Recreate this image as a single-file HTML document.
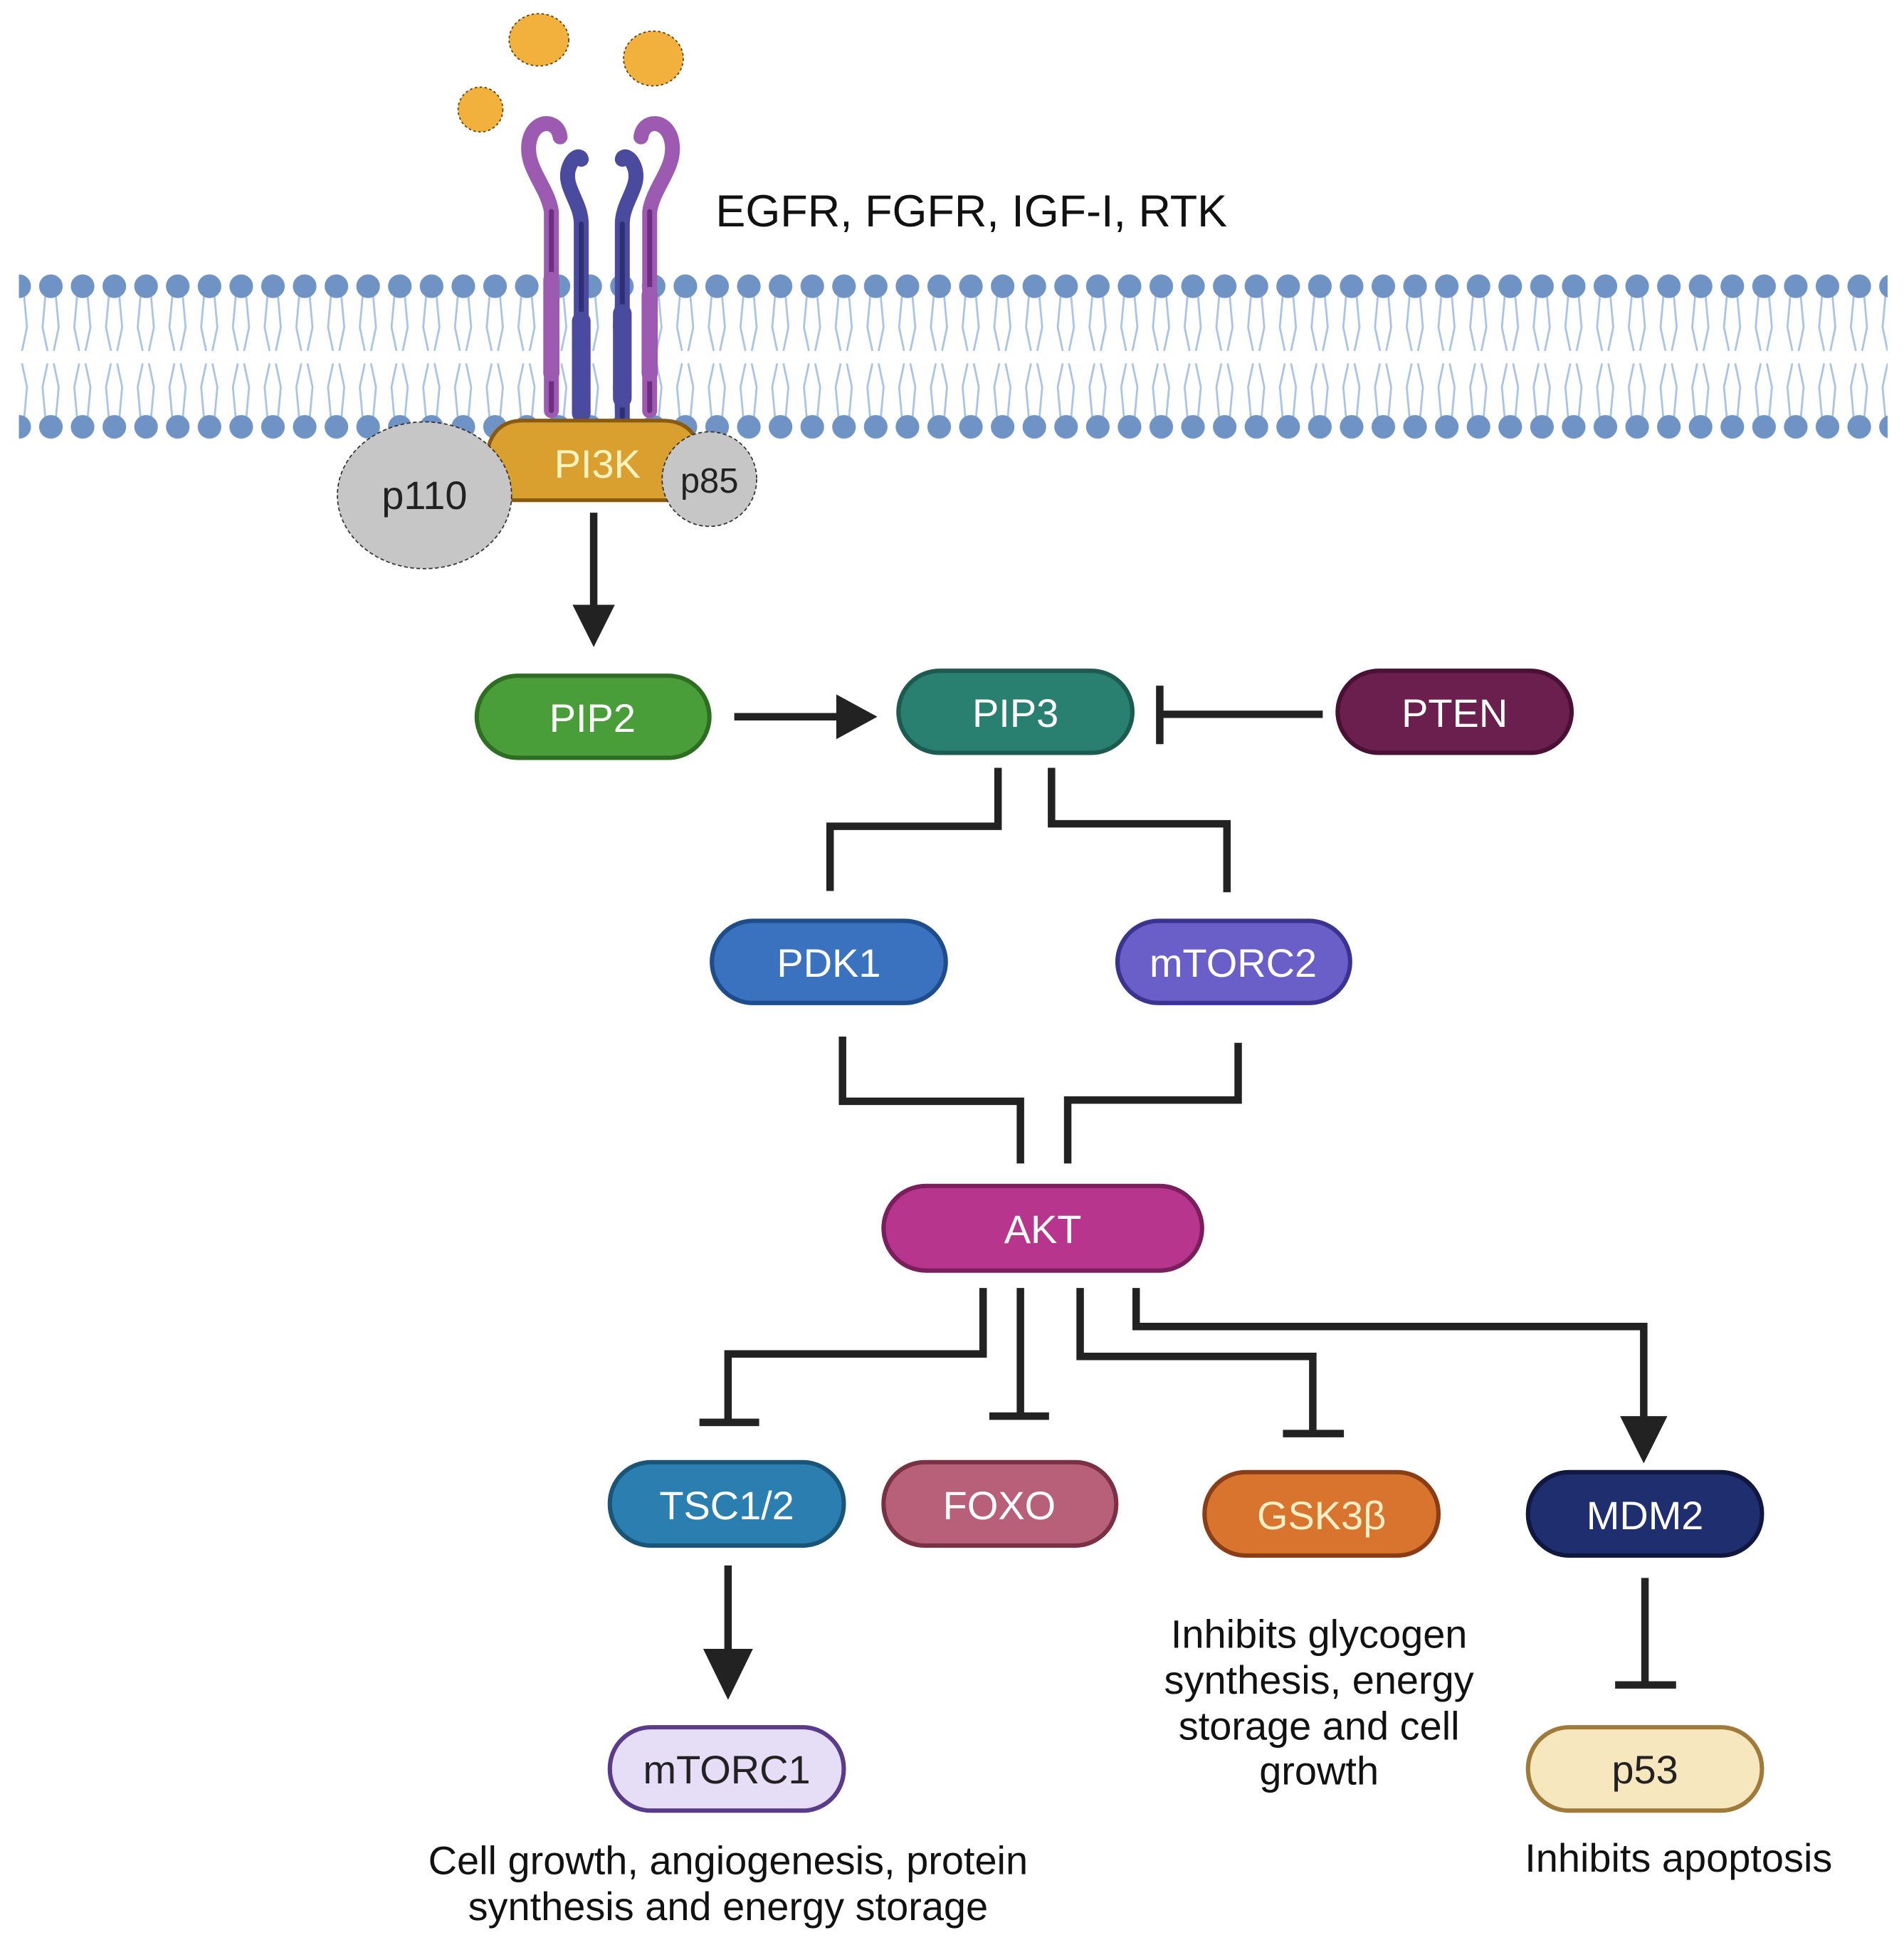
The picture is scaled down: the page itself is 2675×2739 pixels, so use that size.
<!DOCTYPE html>
<html><head><meta charset="utf-8"><style>
html,body{margin:0;padding:0;background:#fff;}
svg{display:block;}
text{font-family:"Liberation Sans",sans-serif;}
</style></head><body>
<svg width="2675" height="2739" viewBox="0 0 1530 1567" xmlns="http://www.w3.org/2000/svg">
<defs>
<pattern id="mem" x="28" y="218" width="25.5" height="138" patternUnits="userSpaceOnUse">
<g stroke="#a9c3e6" stroke-width="1.6" fill="none">
<path d="M9 12 L6 45 L10 64"/><path d="M16 12 L19 45 L15 64"/>
<path d="M9 126 L6 93 L10 74"/><path d="M16 126 L19 93 L15 74"/>
</g>
<circle cx="12.7" cy="12" r="9.5" fill="#6f93c4"/>
<circle cx="12.7" cy="125" r="9.5" fill="#6f93c4"/>
</pattern>
</defs>
<rect width="1530" height="1567" fill="#fff"/>
<ellipse cx="433" cy="32" rx="24" ry="21" fill="#f2b13d" stroke="#5a4010" stroke-dasharray="2 2"/>
<ellipse cx="525" cy="47" rx="24" ry="22" fill="#f2b13d" stroke="#5a4010" stroke-dasharray="2 2"/>
<ellipse cx="386" cy="88" rx="18" ry="18" fill="#f2b13d" stroke="#5a4010" stroke-dasharray="2 2"/>
<rect x="15" y="218" width="1502" height="138" fill="url(#mem)"/>
<g fill="none" stroke-linecap="round">
<path d="M443 330 V170 C440 150 422 135 425 115 C428 95 448 95 450 110" stroke="#9c5bb0" stroke-width="12"/>
<path d="M443 330 V170" stroke="#6e2d80" stroke-width="4"/>
<path d="M522 330 V170 C525 150 543 135 540 115 C537 95 517 95 515 110" stroke="#9c5bb0" stroke-width="12"/>
<path d="M522 330 V170" stroke="#6e2d80" stroke-width="4"/>
<path d="M467 335 V180 C467 162 452 150 457 135 C460 126 466 124 467 128" stroke="#4a4a9e" stroke-width="12"/>
<path d="M467 335 V180" stroke="#2f2f75" stroke-width="4"/>
<path d="M500 335 V180 C500 162 515 150 510 135 C507 126 501 124 500 128" stroke="#4a4a9e" stroke-width="12"/>
<path d="M500 335 V180" stroke="#2f2f75" stroke-width="4"/>
<path d="M443 225 V300 M522 237 V300" stroke="#9c5bb0" stroke-width="13"/>
<path d="M467 258 V332 M500 252 V320" stroke="#4a4a9e" stroke-width="15"/>
</g>
<text x="575" y="182" font-size="36" fill="#111">EGFR, FGFR, IGF-I, RTK</text>
<path d="M392 402 L392 360 Q398 338 420 338 L532 338 Q556 338 562 360 L562 402 Z" fill="#d9a030" stroke="#8a5a10" stroke-width="3"/>
<ellipse cx="341" cy="398" rx="70" ry="59" fill="#c6c6c6" stroke="#333" stroke-width="1" stroke-dasharray="3 2"/>
<circle cx="570" cy="385" r="38" fill="#c6c6c6" stroke="#333" stroke-width="1" stroke-dasharray="3 2"/>
<text x="480" y="384" font-size="32" fill="#fff3c0" text-anchor="middle">PI3K</text>
<text x="341" y="409" font-size="32" fill="#222" text-anchor="middle">p110</text>
<text x="570" y="396" font-size="28" fill="#222" text-anchor="middle">p85</text>
<g stroke="#222" stroke-width="6" fill="none">
<path d="M477 412 V488"/>
<path d="M590 576 H675"/>
<path d="M1063 574 H935 M932 551 V598"/>
<path d="M802 617 V664 H667 V716"/>
<path d="M845 617 V662 H986 V717"/>
<path d="M677 833 V885 H820 V935"/>
<path d="M995 838 V884 H858 V935"/>
<path d="M790 1035 V1088 H585 V1143 M562 1143 H610"/>
<path d="M820 1035 V1138 M795 1138 H843"/>
<path d="M868 1035 V1090 H1055 V1152 M1031 1152 H1080"/>
<path d="M913 1035 V1066 H1321 V1142"/>
<path d="M585 1258 V1330"/>
<path d="M1322 1268 V1354 M1298 1354 H1347"/>
</g>
<g fill="#222">
<path d="M460 486 L494 486 L477 520 Z"/>
<path d="M672 558 L705 576 L672 594 Z"/>
<path d="M1302 1138 L1340 1138 L1321 1176 Z"/>
<path d="M565 1325 L605 1325 L585 1366 Z"/>
</g>
<g stroke-width="3.5">
<rect x="383" y="543" width="187" height="66" rx="33" fill="#4a9e3a" stroke="#2d6e22"/>
<rect x="722" y="539" width="188" height="66" rx="33" fill="#2a8070" stroke="#1d5a50"/>
<rect x="1075" y="539" width="188" height="66" rx="33" fill="#6b1f4e" stroke="#4a1035"/>
<rect x="572" y="740" width="188" height="66" rx="33" fill="#3a72c0" stroke="#1f4c8a"/>
<rect x="898" y="740" width="187" height="66" rx="33" fill="#6a5ec8" stroke="#3b3390"/>
<rect x="710" y="953" width="256" height="68" rx="34" fill="#b8358e" stroke="#7a1e5e"/>
<rect x="490" y="1175" width="188" height="67" rx="33" fill="#2a7fb0" stroke="#1a5578"/>
<rect x="710" y="1175" width="187" height="67" rx="33" fill="#b8607a" stroke="#7a3045"/>
<rect x="968" y="1183" width="188" height="67" rx="33" fill="#d9742f" stroke="#8a3e18"/>
<rect x="1228" y="1183" width="188" height="67" rx="33" fill="#1f2e6e" stroke="#10183f"/>
<rect x="490" y="1388" width="188" height="67" rx="33" fill="#e6ddf6" stroke="#5a3a8a"/>
<rect x="1228" y="1388" width="188" height="67" rx="33" fill="#f6e7bf" stroke="#a07a38"/>
</g>
<g font-size="32" text-anchor="middle" fill="#fff">
<text x="476" y="588">PIP2</text>
<text x="816" y="584">PIP3</text>
<text x="1169" y="584">PTEN</text>
<text x="666" y="785">PDK1</text>
<text x="991" y="785">mTORC2</text>
<text x="838" y="999">AKT</text>
<text x="584" y="1221">TSC1/2</text>
<text x="803" y="1221">FOXO</text>
<text x="1062" y="1229" fill="#fff0c8">GSK3β</text>
<text x="1322" y="1229">MDM2</text>
<text x="584" y="1433" fill="#222">mTORC1</text>
<text x="1322" y="1433" fill="#222">p53</text>
</g>
<g font-size="32" text-anchor="middle" fill="#111">
<text x="585" y="1506">Cell growth, angiogenesis, protein</text>
<text x="585" y="1543">synthesis and energy storage</text>
<text x="1060" y="1324">Inhibits glycogen</text>
<text x="1060" y="1361">synthesis, energy</text>
<text x="1060" y="1398">storage and cell</text>
<text x="1060" y="1434">growth</text>
<text x="1349" y="1504">Inhibits apoptosis</text>
</g>
</svg>
</body></html>
